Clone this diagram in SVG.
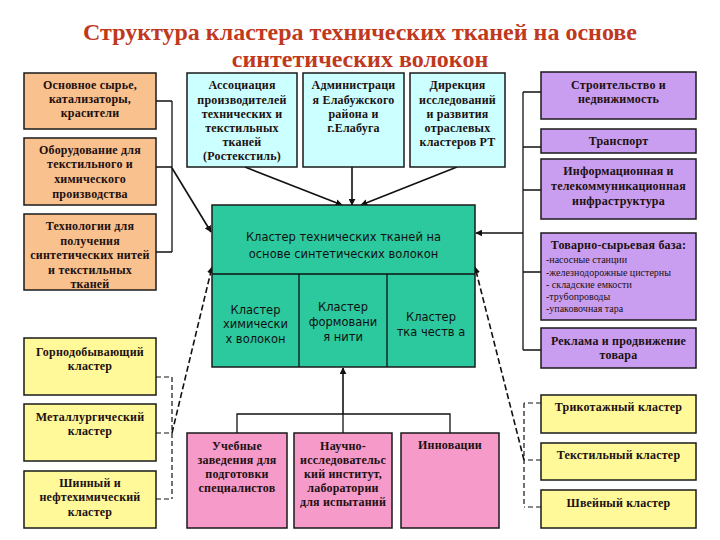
<svg xmlns="http://www.w3.org/2000/svg" width="720" height="540" viewBox="0 0 720 540">
<defs>
<marker id="arr" viewBox="0 0 10 10" refX="9" refY="5" markerWidth="7" markerHeight="7" markerUnits="userSpaceOnUse" orient="auto"><path d="M0,0 L10,5 L0,10 z" fill="#111"/></marker>
<style>
.box{stroke:#1a1a1a;stroke-width:1.5}
.or{fill:#F9C18E}.cy{fill:#CCFFFF}.tl{fill:#2CC89E}.pu{fill:#C99EF0}.ye{fill:#FFF99A}.pk{fill:#F59AC9}
.t{font-family:"Liberation Serif","DejaVu Serif",serif;font-weight:bold;font-size:12px;letter-spacing:0.2px;fill:#1c1010;text-anchor:middle}
.s{font-family:"DejaVu Sans","Liberation Sans",sans-serif;font-size:11.5px;fill:#111;text-anchor:middle}
.l{font-family:"Liberation Serif","DejaVu Serif",serif;font-size:10px;fill:#1c1010}
.ttl{font-family:"Liberation Serif","DejaVu Serif",serif;font-weight:bold;font-size:24px;fill:#C0391E;text-anchor:middle}
.c{fill:none;stroke:#111;stroke-width:1.3}
.a{fill:none;stroke:#111;stroke-width:1.6;marker-end:url(#arr)}
.d{fill:none;stroke:#111;stroke-width:1.2;stroke-dasharray:5,3}
.da{fill:none;stroke:#111;stroke-width:1.6;stroke-dasharray:6,3;marker-end:url(#arr)}
</style>
</defs>
<rect width="720" height="540" fill="#ffffff"/>
<g id="title">
<text class="ttl" x="360" y="40">Структура кластера технических тканей на основе</text>
<text class="ttl" x="360" y="67">синтетических волокон</text>
</g>
<g id="connectors">
<path class="c" d="M156,101 H172 M156,167 H172 M156,252 H172 M172,101 V252"/>
<path class="a" d="M172,168 L211,232"/>
<path class="a" d="M245,167 L342,205"/>
<path class="a" d="M352,167 L352,205"/>
<path class="a" d="M457,167 L361,205"/>
<path class="c" d="M541,92 H523 M541,147 H523 M541,190 H523 M541,272 H523 M541,350 H523 M523,92 V350"/>
<path class="a" d="M523,233 L476,233"/>
<path class="d" d="M156,377 H172 M156,433 H172 M156,499 H172 M172,377 V499"/>
<path class="da" d="M172,433 L212,267"/>
<path class="d" d="M541,403 H524 M541,460 H524 M541,507 H524 M524,403 V507"/>
<path class="da" d="M524,460 L475,267"/>
<path class="c" d="M237,433 V414 H450 V433 M343,433 V414"/>
<path class="a" d="M343,414 L343,368"/>
</g>
<g id="n-syrye"><rect class="box or" x="24" y="73" width="132" height="56"/>
<text class="t" x="90" y="89">Основное сырье,</text><text class="t" x="90" y="103">катализаторы,</text><text class="t" x="90" y="117">красители</text></g>
<g id="n-oborud"><rect class="box or" x="24" y="138" width="132" height="67"/>
<text class="t" x="90" y="154">Оборудование для</text><text class="t" x="90" y="168">текстильного и</text><text class="t" x="90" y="183">химического</text><text class="t" x="90" y="198">производства</text></g>
<g id="n-tech"><rect class="box or" x="24" y="214" width="132" height="76"/>
<text class="t" x="90" y="230">Технологии для</text><text class="t" x="90" y="244.5">получения</text><text class="t" x="90" y="259">синтетических нитей</text><text class="t" x="90" y="273.5">и текстильных</text><text class="t" x="90" y="288">тканей</text></g>
<g id="n-assoc"><rect class="box cy" x="187" y="73" width="110" height="94"/>
<text class="t" x="242" y="89">Ассоциация</text><text class="t" x="242" y="104">производителей</text><text class="t" x="242" y="118">технических и</text><text class="t" x="242" y="132">текстильных</text><text class="t" x="242" y="146">тканей</text><text class="t" x="242" y="160">(Ростекстиль)</text></g>
<g id="n-admin"><rect class="box cy" x="303" y="73" width="101" height="94"/>
<text class="t" x="353.5" y="89">Администраци</text><text class="t" x="353.5" y="104">я Елабужского</text><text class="t" x="353.5" y="118">района и</text><text class="t" x="353.5" y="132">г.Елабуга</text></g>
<g id="n-direkt"><rect class="box cy" x="410" y="73" width="95" height="94"/>
<text class="t" x="457.5" y="89">Дирекция</text><text class="t" x="457.5" y="104">исследований</text><text class="t" x="457.5" y="118">и развития</text><text class="t" x="457.5" y="132">отраслевых</text><text class="t" x="457.5" y="146">кластеров РТ</text></g>
<g id="n-center"><rect class="box tl" x="212" y="205" width="263" height="162"/>
<path class="c" d="M212,274 H475 M299,274 V367 M387,274 V367" stroke-width="1.6"/>
<text class="s" x="343.5" y="241" font-size="13">Кластер технических тканей на</text>
<text class="s" x="343.5" y="258" font-size="13">основе синтетических волокон</text>
<text class="s" x="255.5" y="314">Кластер</text><text class="s" x="255.5" y="328">химически</text><text class="s" x="255.5" y="343">х волокон</text>
<text class="s" x="343" y="311">Кластер</text><text class="s" x="343" y="326">формовани</text><text class="s" x="343" y="341">я нити</text>
<text class="s" x="431" y="321">Кластер</text><text class="s" x="431" y="336">тка честв а</text></g>
<g id="n-stroit"><rect class="box pu" x="541" y="72" width="155" height="47"/>
<text class="t" x="618.5" y="89">Строительство и</text><text class="t" x="618.5" y="103">недвижимость</text></g>
<g id="n-transp"><rect class="box pu" x="541" y="129" width="155" height="24"/>
<text class="t" x="618.5" y="145">Транспорт</text></g>
<g id="n-inform"><rect class="box pu" x="541" y="159" width="155" height="60"/>
<text class="t" x="618.5" y="175">Информационная и</text><text class="t" x="618.5" y="190">телекоммуникационная</text><text class="t" x="618.5" y="205">инфраструктура</text></g>
<g id="n-tovar"><rect class="box pu" x="541" y="233" width="155" height="87"/>
<text class="t" x="618.5" y="249" font-size="12.5">Товарно-сырьевая база:</text>
<text class="l" x="546" y="263">-насосные станции</text><text class="l" x="546" y="276">-железнодорожные цистерны</text><text class="l" x="546" y="288">- складские емкости</text><text class="l" x="546" y="300">-трубопроводы</text><text class="l" x="546" y="312">-упаковочная тара</text></g>
<g id="n-reklama"><rect class="box pu" x="541" y="328" width="155" height="40"/>
<text class="t" x="618.5" y="345" font-size="12.5">Реклама и продвижение</text><text class="t" x="618.5" y="359" font-size="12.5">товара</text></g>
<g id="n-gorno"><rect class="box ye" x="24" y="338" width="132" height="57"/>
<text class="t" x="90" y="356">Горнодобывающий</text><text class="t" x="90" y="370">кластер</text></g>
<g id="n-metall"><rect class="box ye" x="24" y="404" width="132" height="57"/>
<text class="t" x="90" y="421">Металлургический</text><text class="t" x="90" y="435">кластер</text></g>
<g id="n-shin"><rect class="box ye" x="24" y="471" width="132" height="57"/>
<text class="t" x="90" y="487">Шинный и</text><text class="t" x="90" y="501">нефтехимический</text><text class="t" x="90" y="516">кластер</text></g>
<g id="n-trikot"><rect class="box ye" x="541" y="395" width="155" height="38"/>
<text class="t" x="618.5" y="411">Трикотажный кластер</text></g>
<g id="n-tekst"><rect class="box ye" x="541" y="443" width="155" height="37"/>
<text class="t" x="618.5" y="459">Текстильный кластер</text></g>
<g id="n-shvein"><rect class="box ye" x="541" y="490" width="155" height="38"/>
<text class="t" x="618.5" y="507">Швейный кластер</text></g>
<g id="n-ucheb"><rect class="box pk" x="187" y="433" width="100" height="95"/>
<text class="t" x="237" y="450">Учебные</text><text class="t" x="237" y="464">заведения для</text><text class="t" x="237" y="478">подготовки</text><text class="t" x="237" y="492">специалистов</text></g>
<g id="n-nauch"><rect class="box pk" x="294" y="433" width="98" height="95"/>
<text class="t" x="343" y="450">Научно-</text><text class="t" x="343" y="464">исследовательс</text><text class="t" x="343" y="478">кий институт,</text><text class="t" x="343" y="492">лаборатории</text><text class="t" x="343" y="506">для испытаний</text></g>
<g id="n-innov"><rect class="box pk" x="401" y="433" width="98" height="95"/>
<text class="t" x="450" y="449">Инновации</text></g>
</svg>
